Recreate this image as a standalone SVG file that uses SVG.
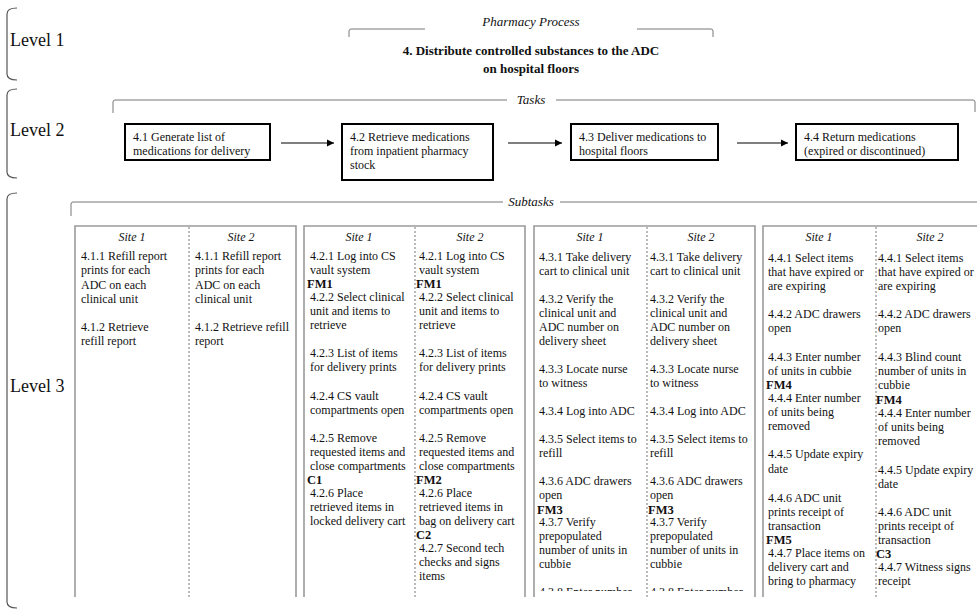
<svg xmlns="http://www.w3.org/2000/svg" width="977" height="613" viewBox="0 0 977 613">
<style>
text{font-family:"Liberation Serif","Times New Roman",serif;fill:#111}
.t{font-size:12px}
.i{font-style:italic;font-size:12px}
.h{font-style:italic;font-size:13px}
.b{font-weight:bold;font-size:12.5px}
.tt{font-weight:bold;font-size:13px}
.lvl{font-size:18px}
.br{fill:none;stroke:#555;stroke-width:1.2}
.sec{fill:none;stroke:#777;stroke-width:1}
.task{fill:#fff;stroke:#000;stroke-width:2}
.col{fill:none;stroke:#9a9a9a;stroke-width:1.6}
.div{stroke:#777;stroke-width:1;stroke-dasharray:2 2}
.arr{stroke:#000;stroke-width:1.2;fill:none;marker-end:url(#ah)}
</style>
<defs>
<marker id="ah" markerWidth="8" markerHeight="8" refX="7" refY="4" orient="auto" markerUnits="userSpaceOnUse">
<path d="M0,0.5 L7,4 L0,7.5 Z" fill="#000"/>
</marker>
<clipPath id="cl"><rect x="0" y="215" width="977" height="382"/></clipPath>
<clipPath id="ct"><rect x="0" y="215" width="977" height="376"/></clipPath>
</defs>
<rect width="977" height="613" fill="#fff"/>

<g id="level1">
<path class="br" d="M17,8 Q7,8 7,14 L7,74 Q7,80 17,80"/>
<text class="lvl" x="10" y="46">Level 1</text>
<path class="sec" d="M349,37 L349,31 Q349,29 351,29 L425,29 M637,29 L711,29 Q713,29 713,31 L713,37"/>
<text class="h" x="531" y="26" text-anchor="middle">Pharmacy Process</text>
<text class="tt" x="531" y="55" text-anchor="middle">4. Distribute controlled substances to the ADC</text>
<text class="tt" x="531" y="73" text-anchor="middle">on hospital floors</text>
</g>

<g id="level2">
<path class="br" d="M17,89 Q7,89 7,95 L7,172 Q7,178 17,178"/>
<text class="lvl" x="10" y="136">Level 2</text>
<path class="sec" d="M113,113 L113,102 Q113,100 115,100 L507,100 M556,100 L973,100 Q975,100 975,102 L975,112"/>
<text class="h" x="531" y="104" text-anchor="middle">Tasks</text>
</g>

<g id="task41">
<rect class="task" x="125" y="124" width="145" height="36"/>
<text class="t" x="133" y="141">4.1 Generate list of</text>
<text class="t" x="133" y="155">medications for delivery</text>
</g>
<g id="task42">
<rect class="task" x="342" y="124" width="151" height="56"/>
<text class="t" x="350" y="141">4.2 Retrieve medications</text>
<text class="t" x="350" y="155">from inpatient pharmacy</text>
<text class="t" x="350" y="169">stock</text>
</g>
<g id="task43">
<rect class="task" x="571" y="124" width="147" height="36"/>
<text class="t" x="579" y="141">4.3 Deliver medications to</text>
<text class="t" x="579" y="155">hospital floors</text>
</g>
<g id="task44">
<rect class="task" x="796" y="124" width="162" height="36"/>
<text class="t" x="804" y="141">4.4 Return medications</text>
<text class="t" x="804" y="155">(expired or discontinued)</text>
</g>

<g id="connectors">
<path class="arr" d="M281,143 L334,143"/>
<path class="arr" d="M508,143 L562,143"/>
<path class="arr" d="M737,143 L788,143"/>
</g>

<g id="level3">
<path class="br" d="M17,193 Q7,193 7,199 L7,602 Q7,608 17,608"/>
<text class="lvl" x="10" y="392">Level 3</text>
<path class="sec" d="M71,216 L71,204 Q71,202 73,202 L503,202 M560,202 L977,202"/>
<text class="h" x="531" y="206" text-anchor="middle">Subtasks</text>
</g>

<g id="sub41">
<g clip-path="url(#cl)">
<path class="col" d="M75,597 L75,226 L296,226 L296,597"/>
<line class="div" x1="189" y1="227" x2="189" y2="597"/>
</g>
<g clip-path="url(#ct)">
<text class="i" x="132" y="241" text-anchor="middle">Site 1</text>
<text class="i" x="241" y="241" text-anchor="middle">Site 2</text>
<text class="t" x="81" y="260">4.1.1 Refill report</text>
<text class="t" x="81" y="274">prints for each</text>
<text class="t" x="81" y="288.5">ADC on each</text>
<text class="t" x="81" y="302.5">clinical unit</text>
<text class="t" x="81" y="331">4.1.2 Retrieve</text>
<text class="t" x="81" y="345">refill report</text>
<text class="t" x="195" y="260">4.1.1 Refill report</text>
<text class="t" x="195" y="274">prints for each</text>
<text class="t" x="195" y="288.5">ADC on each</text>
<text class="t" x="195" y="302.5">clinical unit</text>
<text class="t" x="195" y="331">4.1.2 Retrieve refill</text>
<text class="t" x="195" y="345">report</text>
</g>
</g>

<g id="sub42">
<g clip-path="url(#cl)">
<path class="col" d="M304,597 L304,226 L525,226 L525,597"/>
<line class="div" x1="415" y1="227" x2="415" y2="597"/>
</g>
<g clip-path="url(#ct)">
<text class="i" x="359" y="241" text-anchor="middle">Site 1</text>
<text class="i" x="470" y="241" text-anchor="middle">Site 2</text>
<text class="t" x="310" y="260">4.2.1 Log into CS</text>
<text class="t" x="310" y="274">vault system</text>
<text class="b" x="307" y="288">FM1</text>
<text class="t" x="310" y="300.5">4.2.2 Select clinical</text>
<text class="t" x="310" y="314.5">unit and items to</text>
<text class="t" x="310" y="329">retrieve</text>
<text class="t" x="310" y="357">4.2.3 List of items</text>
<text class="t" x="310" y="371">for delivery prints</text>
<text class="t" x="310" y="399.5">4.2.4 CS vault</text>
<text class="t" x="310" y="413.5">compartments open</text>
<text class="t" x="310" y="442">4.2.5 Remove</text>
<text class="t" x="310" y="456">requested items and</text>
<text class="t" x="310" y="470">close compartments</text>
<text class="b" x="307" y="484">C1</text>
<text class="t" x="310" y="497">4.2.6 Place</text>
<text class="t" x="310" y="511">retrieved items in</text>
<text class="t" x="310" y="525">locked delivery cart</text>
<text class="t" x="419" y="260">4.2.1 Log into CS</text>
<text class="t" x="419" y="274">vault system</text>
<text class="b" x="416" y="288">FM1</text>
<text class="t" x="419" y="300.5">4.2.2 Select clinical</text>
<text class="t" x="419" y="314.5">unit and items to</text>
<text class="t" x="419" y="329">retrieve</text>
<text class="t" x="419" y="357">4.2.3 List of items</text>
<text class="t" x="419" y="371">for delivery prints</text>
<text class="t" x="419" y="399.5">4.2.4 CS vault</text>
<text class="t" x="419" y="413.5">compartments open</text>
<text class="t" x="419" y="442">4.2.5 Remove</text>
<text class="t" x="419" y="456">requested items and</text>
<text class="t" x="419" y="470">close compartments</text>
<text class="b" x="416" y="484">FM2</text>
<text class="t" x="419" y="497">4.2.6 Place</text>
<text class="t" x="419" y="511">retrieved items in</text>
<text class="t" x="419" y="525">bag on delivery cart</text>
<text class="b" x="416" y="539">C2</text>
<text class="t" x="419" y="552">4.2.7 Second tech</text>
<text class="t" x="419" y="566">checks and signs</text>
<text class="t" x="419" y="580">items</text>
</g>
</g>

<g id="sub43">
<g clip-path="url(#cl)">
<path class="col" d="M534,597 L534,226 L755,226 L755,597"/>
<line class="div" x1="647" y1="227" x2="647" y2="597"/>
</g>
<g clip-path="url(#ct)">
<text class="i" x="590" y="241" text-anchor="middle">Site 1</text>
<text class="i" x="701" y="241" text-anchor="middle">Site 2</text>
<text class="t" x="539" y="261">4.3.1 Take delivery</text>
<text class="t" x="539" y="275">cart to clinical unit</text>
<text class="t" x="539" y="303">4.3.2 Verify the</text>
<text class="t" x="539" y="317">clinical unit and</text>
<text class="t" x="539" y="331">ADC number on</text>
<text class="t" x="539" y="345">delivery sheet</text>
<text class="t" x="539" y="373">4.3.3 Locate nurse</text>
<text class="t" x="539" y="387">to witness</text>
<text class="t" x="539" y="415">4.3.4 Log into ADC</text>
<text class="t" x="539" y="443">4.3.5 Select items to</text>
<text class="t" x="539" y="457">refill</text>
<text class="t" x="539" y="485">4.3.6 ADC drawers</text>
<text class="t" x="539" y="499">open</text>
<text class="b" x="537" y="513.5">FM3</text>
<text class="t" x="539" y="526">4.3.7 Verify</text>
<text class="t" x="539" y="540">prepopulated</text>
<text class="t" x="539" y="554">number of units in</text>
<text class="t" x="539" y="568">cubbie</text>
<text class="t" x="539" y="596">4.3.8 Enter number</text>
<text class="t" x="650" y="261">4.3.1 Take delivery</text>
<text class="t" x="650" y="275">cart to clinical unit</text>
<text class="t" x="650" y="303">4.3.2 Verify the</text>
<text class="t" x="650" y="317">clinical unit and</text>
<text class="t" x="650" y="331">ADC number on</text>
<text class="t" x="650" y="345">delivery sheet</text>
<text class="t" x="650" y="373">4.3.3 Locate nurse</text>
<text class="t" x="650" y="387">to witness</text>
<text class="t" x="650" y="415">4.3.4 Log into ADC</text>
<text class="t" x="650" y="443">4.3.5 Select items to</text>
<text class="t" x="650" y="457">refill</text>
<text class="t" x="650" y="485">4.3.6 ADC drawers</text>
<text class="t" x="650" y="499">open</text>
<text class="b" x="648" y="513.5">FM3</text>
<text class="t" x="650" y="526">4.3.7 Verify</text>
<text class="t" x="650" y="540">prepopulated</text>
<text class="t" x="650" y="554">number of units in</text>
<text class="t" x="650" y="568">cubbie</text>
<text class="t" x="650" y="596">4.3.8 Enter number</text>
</g>
</g>

<g id="sub44">
<g clip-path="url(#cl)">
<path class="col" d="M763,597 L763,226 L990,226"/>
<line class="div" x1="876" y1="227" x2="876" y2="597"/>
</g>
<g clip-path="url(#ct)">
<text class="i" x="819" y="241" text-anchor="middle">Site 1</text>
<text class="i" x="930" y="241" text-anchor="middle">Site 2</text>
<text class="t" x="768" y="262">4.4.1 Select items</text>
<text class="t" x="768" y="276">that have expired or</text>
<text class="t" x="768" y="290">are expiring</text>
<text class="t" x="768" y="318">4.4.2 ADC drawers</text>
<text class="t" x="768" y="332">open</text>
<text class="t" x="768" y="361">4.4.3 Enter number</text>
<text class="t" x="768" y="375">of units in cubbie</text>
<text class="b" x="766" y="389">FM4</text>
<text class="t" x="768" y="402">4.4.4 Enter number</text>
<text class="t" x="768" y="416">of units being</text>
<text class="t" x="768" y="430">removed</text>
<text class="t" x="768" y="458">4.4.5 Update expiry</text>
<text class="t" x="768" y="473">date</text>
<text class="t" x="768" y="502">4.4.6 ADC unit</text>
<text class="t" x="768" y="516">prints receipt of</text>
<text class="t" x="768" y="530">transaction</text>
<text class="b" x="766" y="544">FM5</text>
<text class="t" x="768" y="557">4.4.7 Place items on</text>
<text class="t" x="768" y="571">delivery cart and</text>
<text class="t" x="768" y="585">bring to pharmacy</text>
<text class="t" x="878" y="262">4.4.1 Select items</text>
<text class="t" x="878" y="276">that have expired or</text>
<text class="t" x="878" y="290">are expiring</text>
<text class="t" x="878" y="318">4.4.2 ADC drawers</text>
<text class="t" x="878" y="332">open</text>
<text class="t" x="878" y="361">4.4.3 Blind count</text>
<text class="t" x="878" y="375">number of units in</text>
<text class="t" x="878" y="389">cubbie</text>
<text class="b" x="876" y="404">FM4</text>
<text class="t" x="878" y="417">4.4.4 Enter number</text>
<text class="t" x="878" y="431">of units being</text>
<text class="t" x="878" y="445">removed</text>
<text class="t" x="878" y="474">4.4.5 Update expiry</text>
<text class="t" x="878" y="488">date</text>
<text class="t" x="878" y="516">4.4.6 ADC unit</text>
<text class="t" x="878" y="530">prints receipt of</text>
<text class="t" x="878" y="544">transaction</text>
<text class="b" x="876" y="558">C3</text>
<text class="t" x="878" y="571">4.4.7 Witness signs</text>
<text class="t" x="878" y="585">receipt</text>
</g>
</g>
</svg>
